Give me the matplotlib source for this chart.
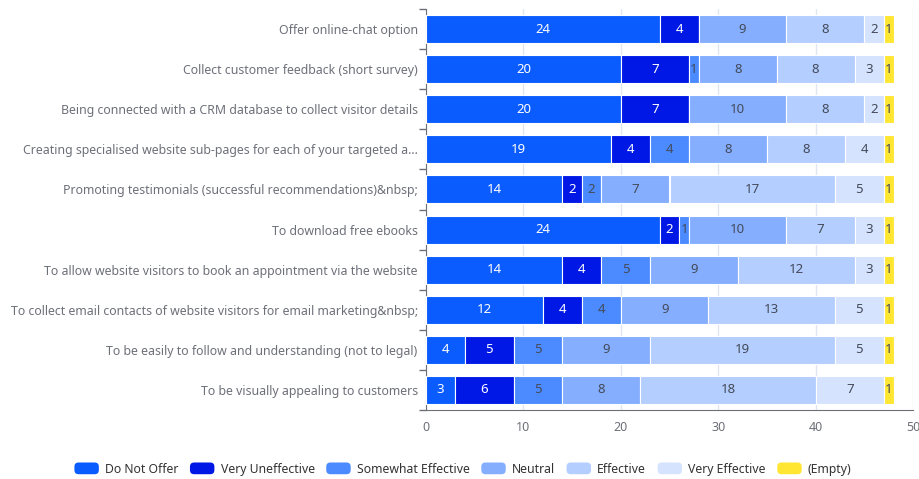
import matplotlib
matplotlib.use("Agg")
import matplotlib.pyplot as plt
from matplotlib.patches import FancyBboxPatch, Patch
from matplotlib.legend_handler import HandlerPatch
import numpy as np

plt.rcParams['font.family'] = ['Noto Sans', 'DejaVu Sans']

categories = [
    "Offer online-chat option",
    "Collect customer feedback (short survey)",
    "Being connected with a CRM database to collect visitor details",
    "Creating specialised website sub-pages for each of your targeted a...",
    "Promoting testimonials (successful recommendations)&nbsp;",
    "To download free ebooks",
    "To allow website visitors to book an appointment via the website",
    "To collect email contacts of website visitors for email marketing&nbsp;",
    "To be easily to follow and understanding (not to legal)",
    "To be visually appealing to customers",
]

series_names = ["Do Not Offer", "Very Uneffective", "Somewhat Effective",
                "Neutral", "Effective", "Very Effective", "(Empty)"]

do_not_offer       = [24, 20, 20, 19, 14, 24, 14, 12, 4, 3]
very_uneffective   = [4, 7, 7, 4, 2, 2, 4, 4, 5, 6]
somewhat_effective = [0, 1, 0, 4, 2, 1, 5, 4, 5, 5]
neutral            = [9, 8, 10, 8, 7, 10, 9, 9, 9, 8]
effective          = [8, 8, 8, 8, 17, 7, 12, 13, 19, 18]
very_effective     = [2, 3, 2, 4, 5, 3, 3, 5, 5, 7]
empty              = [1, 1, 1, 1, 1, 1, 1, 1, 1, 1]

series_values = [do_not_offer, very_uneffective, somewhat_effective,
                 neutral, effective, very_effective, empty]

colors = ["#0a5cff", "#0018e6", "#4b8bff", "#85aeff", "#b3ceff", "#d5e3ff", "#ffe633"]
label_colors = ["#ffffff", "#ffffff", "#444a5a", "#444a5a", "#444a5a", "#444a5a", "#444a5a"]

W, H = 919, 479
fig = plt.figure(figsize=(W / 100, H / 100), dpi=100)
ax = fig.add_axes([426 / W, 1 - 410 / H, (913 - 426) / W, (410 - 9) / H])

n = len(categories)
y = np.arange(n)
left = np.zeros(n)
for name, vals, col, lcol in zip(series_names, series_values, colors, label_colors):
    vals = np.array(vals, dtype=float)
    ax.barh(y, vals, left=left, height=0.7, color=col,
            edgecolor="white", linewidth=0.8, zorder=3)
    for yi, (l, v) in enumerate(zip(left, vals)):
        if v > 0:
            ax.text(l + v / 2, yi, f"{int(v)}", ha="center", va="center",
                    color=lcol, fontsize=9.5, zorder=4)
    left = left + vals

ax.set_xlim(0, 50)
ax.set_ylim(n - 0.5, -0.5)
ax.set_xticks(np.arange(0, 51, 10))
ax.set_yticks(y)
ax.set_yticklabels(categories)
ax.set_yticks(np.arange(-0.5, n, 1.0), minor=True)

ax.tick_params(axis="y", which="major", length=0, pad=6, labelsize=8.85, labelcolor="#6e7079")
ax.tick_params(axis="y", which="minor", length=5, color="#6e7079", width=1)
ax.tick_params(axis="x", which="major", length=0, pad=8, labelsize=9, labelcolor="#6e7079")

ax.grid(axis="x", color="#e0e6f1", linewidth=1, zorder=0)
for side in ["top", "right"]:
    ax.spines[side].set_visible(False)
ax.spines["left"].set_color("#6e7079")
ax.spines["bottom"].set_color("#6e7079")


class RoundHandler(HandlerPatch):
    def create_artists(self, legend, orig_handle, xdescent, ydescent,
                       width, height, fontsize, trans):
        p = FancyBboxPatch((-xdescent, -ydescent), width, height,
                           boxstyle="round,pad=0,rounding_size=3",
                           facecolor=orig_handle.get_facecolor(),
                           edgecolor="none", transform=trans)
        return [p]


handles = [Patch(facecolor=c, label=s) for c, s in zip(colors, series_names)]
fig.legend(handles=handles, loc="center", bbox_to_anchor=(463 / W, 1 - 469 / H),
           ncol=7, frameon=False, fontsize=8.8, labelcolor="#333333",
           handler_map={Patch: RoundHandler()},
           handlelength=2.0, handleheight=1.1, handletextpad=0.5, columnspacing=0.95)

fig.savefig("out.png", dpi=100)
